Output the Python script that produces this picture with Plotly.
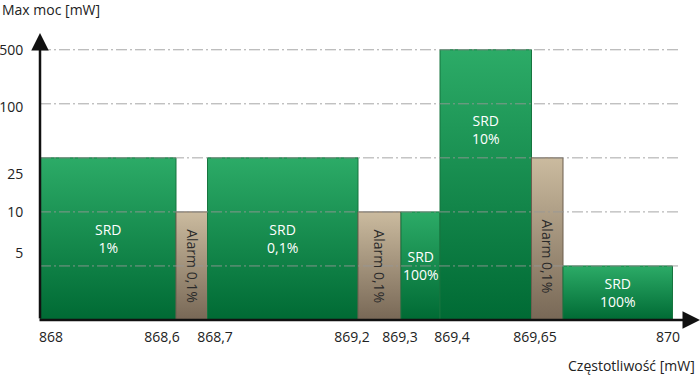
import numpy as np
import plotly.graph_objects as go

# ---- data ----
band_names = ["SRD<br>1%", "Alarm 0,1%", "SRD<br>0,1%", "Alarm 0,1%",
              "SRD<br>100%", "SRD<br>10%", "Alarm 0,1%", "SRD<br>100%"]
band_kind = ["srd", "alarm", "srd", "alarm", "srd", "srd", "alarm", "srd"]
band_f_start = [868.0, 868.6, 868.7, 869.2, 869.3, 869.4, 869.65, 869.7]
band_f_end = [868.6, 868.7, 869.2, 869.3, 869.4, 869.65, 869.7, 870.0]
band_power = [25, 10, 25, 10, 10, 500, 25, 5]          # mW

x_tick_labels = ["868", "868,6", "868,7", "869,2", "869,3", "869,4", "869,65", "870"]
y_tick_labels = ["5", "10", "25", "100", "500"]
power_levels = [5, 10, 25, 100, 500]

# ---- layout of the (non-linear) axes ----
freq_edges = [868.0, 868.6, 868.7, 869.2, 869.3, 869.4, 869.65, 869.7, 870.0]
edge_pos = [0, 136, 167.5, 318, 361, 400, 491.5, 523, 632.5]
x_tick_pos = [11, 122, 175, 312, 360, 412, 495, 628]
y_tick_pos = [1.24, 2.0, 2.7, 3.93, 5.0]
label_level = [None, None, None, None, None, 3.52, 1.17, None]

def fx(f):
    return float(np.interp(f, freq_edges, edge_pos))

def fy(p):
    return power_levels.index(p) + 1

colors = {
    "srd": dict(light="#2cab67", dark="#006a34", line="#17753f"),
    "alarm": dict(light="#cbbb9f", dark="#786856", line="#6d5f4f"),
}

fig = go.Figure()
annotations = []
for i in range(len(band_names)):
    x0, x1 = fx(band_f_start[i]), fx(band_f_end[i])
    top = fy(band_power[i])
    c = colors[band_kind[i]]
    fig.add_trace(go.Scatter(
        x=[x0, x1, x1, x0, x0], y=[0, 0, top, top, 0],
        mode="lines", fill="toself",
        line=dict(color=c["line"], width=1),
        fillgradient=dict(type="vertical",
                          colorscale=[[0, c["dark"]], [1, c["light"]]]),
        hoverinfo="skip", showlegend=False))
    ly = label_level[i] if label_level[i] is not None else top / 2
    if band_kind[i] == "alarm":
        annotations.append(dict(x=(x0 + x1) / 2, y=ly, text=band_names[i],
                                textangle=90, showarrow=False,
                                font=dict(size=14, color="#2a2a2a")))
    else:
        annotations.append(dict(x=(x0 + x1) / 2, y=ly, text=band_names[i],
                                showarrow=False,
                                font=dict(size=14, color="white")))

y_top = 5.31
x_right = 660

# grid lines (above bars)
shapes = []
for p in power_levels:
    shapes.append(dict(type="line", xref="x", yref="y", x0=0, x1=638,
                       y0=fy(p), y1=fy(p), layer="above",
                       line=dict(color="rgba(150,150,150,0.85)", width=1,
                                 dash="11px,3px,2px,3px")))

# axis arrows
annotations.append(dict(x=x_right, y=0, ax=-2, ay=0, axref="x", ayref="y",
                        xref="x", yref="y", text="", showarrow=True,
                        arrowhead=2, arrowsize=1.4, arrowwidth=2.5,
                        arrowcolor="#111111", standoff=0, startstandoff=0))
annotations.append(dict(x=0, y=y_top, ax=0, ay=0, axref="x", ayref="y",
                        xref="x", yref="y", text="", showarrow=True,
                        arrowhead=2, arrowsize=1.4, arrowwidth=2.5,
                        arrowcolor="#111111", standoff=0, startstandoff=0))

annotations.append(dict(x=0, y=1, xref="paper", yref="paper", xanchor="left",
                        yanchor="middle", text="Max moc [mW]", showarrow=False,
                        font=dict(size=14, color="#222222"), xshift=-40, yshift=24))
annotations.append(dict(x=1, y=0, xref="paper", yref="paper", xanchor="right",
                        yanchor="middle", text="Częstotliwość [mW]", showarrow=False,
                        font=dict(size=14, color="#222222"), xshift=-3, yshift=-45))

fig.update_layout(
    width=700, height=375,
    margin=dict(l=40, r=0, t=33, b=55),
    paper_bgcolor="white", plot_bgcolor="white",
    font=dict(family="Open Sans", size=14, color="#222222"),
    xaxis=dict(range=[0, x_right], tickvals=x_tick_pos, ticktext=x_tick_labels,
               showgrid=False, zeroline=False, showline=False,
               ticks="outside", ticklen=4, tickcolor="rgba(0,0,0,0)",
               tickfont=dict(size=14, color="#222222"), fixedrange=True),
    yaxis=dict(range=[0, y_top], tickvals=y_tick_pos, ticktext=y_tick_labels,
               showgrid=False, zeroline=False, showline=False,
               ticks="outside", ticklen=13, tickcolor="rgba(0,0,0,0)",
               tickfont=dict(size=14, color="#222222"), fixedrange=True),
    shapes=shapes, annotations=annotations,
)

fig.write_html("out.html", config={"displayModeBar": False},
               post_script="document.body.style.margin='0';document.body.style.overflow='hidden';")
